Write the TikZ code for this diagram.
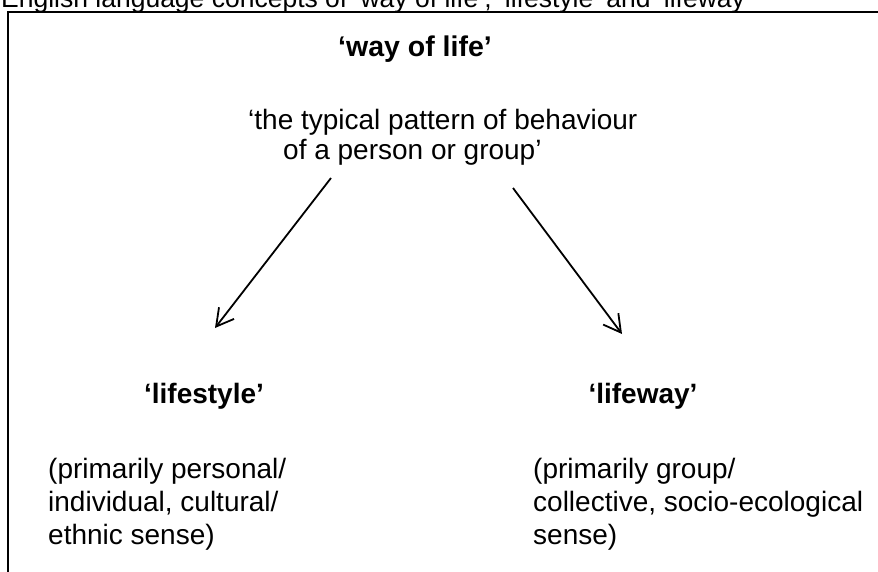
\documentclass[tikz,border=0pt]{standalone}
\usepackage{fontspec}
\setmainfont{Liberation Sans}
\usetikzlibrary{arrows.meta}
\begin{document}
\begin{tikzpicture}[x=1pt,y=-1pt,
  txt/.style={inner sep=0pt,font=\fontsize{28}{33}\selectfont},
  captxt/.style={inner sep=0pt,font=\fontsize{26.5}{32}\selectfont},
  head/.style={inner sep=0pt,font=\fontsize{28.5}{34}\selectfont\bfseries},
  subhead/.style={inner sep=0pt,font=\fontsize{28}{34}\selectfont\bfseries},
  frame/.style={line width=2.4pt},
  arr/.style={line width=1.8pt,-{Straight Barb[length=17pt,width=19pt,line width=1.8pt]}}]
\useasboundingbox (0,0) rectangle (878,572);
% open frame: only the top and left sides lie inside the page
\draw[frame] (8,572) -- (8,12) -- (878,12);
% caption above the frame
\node[captxt,anchor=base west] (cap) at (1,8) {English language concepts of ‘way of life’, ‘lifestyle’ and ‘lifeway’};
% top concept and its definition
\node[head,anchor=base] (wol) at (415,57) {‘way of life’};
\node[txt,anchor=base west] (def1) at (248,130) {‘the typical pattern of behaviour};
\node[txt,anchor=base west] (def2) at (283,160) {of a person or group’};
% the two branches
\node[subhead,anchor=base] (ls) at (204,403) {‘lifestyle’};
\node[subhead,anchor=base] (lw) at (643,403) {‘lifeway’};
\node[txt,anchor=base west] (ls1) at (48,478) {(primarily personal/};
\node[txt,anchor=base west] (ls2) at (48,511) {individual, cultural/};
\node[txt,anchor=base west] (ls3) at (48,544) {ethnic sense)};
\node[txt,anchor=base west] (lw1) at (533,478) {(primarily group/};
\node[txt,anchor=base west] (lw2) at (533,511) {collective, socio-ecological};
\node[txt,anchor=base west] (lw3) at (533,544) {sense)};
% arrow end points
\coordinate (lsfrom) at (331,178);
\coordinate (lsto) at (215,328);
\coordinate (lwfrom) at (513,188);
\coordinate (lwto) at (622,334);
\draw[arr] (lsfrom) -- (lsto);
\draw[arr] (lwfrom) -- (lwto);
\end{tikzpicture}
\end{document}
